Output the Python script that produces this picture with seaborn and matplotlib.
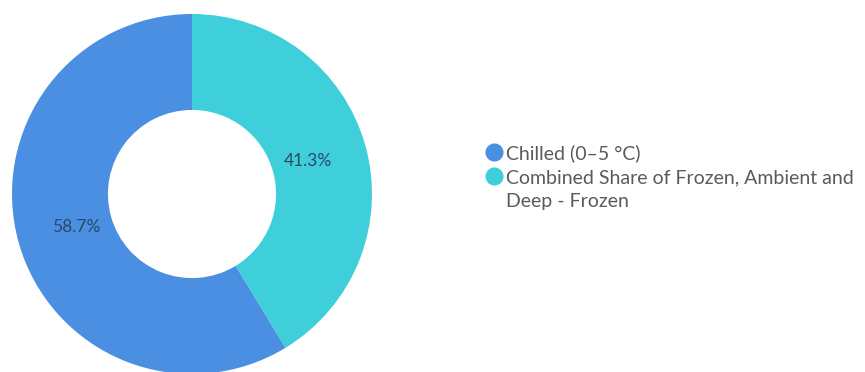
import matplotlib.pyplot as plt
import seaborn as sns
from matplotlib.lines import Line2D

categories = ["Chilled (0\u20135 \u00b0C)", "Combined Share of Frozen, Ambient and\nDeep - Frozen"]
shares = [58.7, 41.3]
colors = ["#4a8fe2", "#3fcfda"]

sns.set_theme(style="white")
plt.rcParams["font.family"] = ["Lato", "DejaVu Sans"]

fig = plt.figure(figsize=(8.65, 3.72), dpi=100)
ax = fig.add_axes([12 / 865, -2 / 372, 360 / 865, 360 / 372])

wedges, texts, autotexts = ax.pie(
    shares, colors=colors, startangle=90, counterclock=True,
    radius=1, autopct="%1.1f%%", pctdistance=0.67,
    wedgeprops=dict(width=0.533, edgecolor="none"),
    textprops=dict(color="#2b4868", fontsize=12.5),
)
ax.set_xlim(-1, 1)
ax.set_ylim(-1, 1)
ax.set_aspect("equal")
ax.axis("off")

# legend: marker sits on the first line of each label, wrapped lines follow
handles, labels = [], []
for cat, c in zip(categories, colors):
    for i, line in enumerate(cat.split("\n")):
        handles.append(Line2D([], [], marker="o", linestyle="none", markersize=12,
                              markerfacecolor=c, markeredgecolor=c,
                              alpha=1 if i == 0 else 0))
        labels.append(line)

fig.legend(
    handles, labels, loc="upper left",
    bbox_to_anchor=(486 / 865, 1 - 144 / 372),
    frameon=False, fontsize=14, labelcolor="#5a5a5a",
    handletextpad=0.25, handlelength=0.8, labelspacing=0.36,
    borderaxespad=0, borderpad=0,
)

fig.savefig("out.png", dpi=100)
